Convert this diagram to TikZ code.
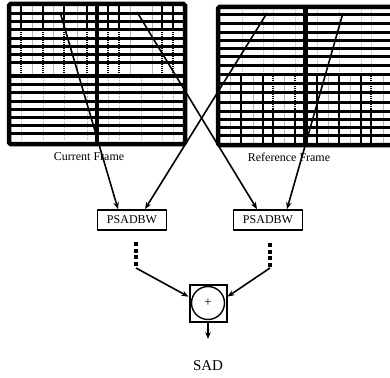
\documentclass[tikz,border=0pt]{standalone}
\usepackage{fontspec}
\setmainfont{Liberation Serif}
\usetikzlibrary{positioning, arrows.meta, calc}

\begin{document}
\begin{tikzpicture}[x=1pt, y=-1pt,
  frame/.style={line width=4.5pt, rounded corners=1.5pt},
  divider/.style={line width=3.5pt},
  rowline/.style={line width=3pt},
  blkline/.style={line width=2pt},
  dotline/.style={line width=1.8pt, dash pattern=on 1pt off 1pt},
  grayline/.style={gray!55, line width=0.7pt},
  graymark/.style={gray!60, line width=0.7pt, dash pattern=on 1pt off 1pt},
  opbox/.style={rectangle, draw, line width=1.8pt, minimum width=69pt, minimum height=20pt, inner sep=0pt, font=\fontsize{12}{14}\selectfont},
  lbl/.style={font=\fontsize{12}{14}\selectfont},
  arrow/.style={-{Stealth[length=7pt, width=5.5pt]}, line width=1.6pt},
  dots/.style={line width=3.8pt, dash pattern=on 4pt off 2.7pt}
]
\useasboundingbox (0,0) rectangle (390,377);

% Current Frame (left)
\foreach \x in {32,53,77,130,152} \draw[grayline] (\x,4) -- (\x,76);
\foreach \x in {21,43,64,87,108,119,162,173} {
  \draw[blkline] (\x,4) -- (\x,30);
  \draw[dotline] (\x,30) -- (\x,76);
}
\foreach \y in {14,22,30,39,47,55,63} \draw[rowline] (9,\y) -- (185,\y);
\foreach \y in {85,93,101,109,117,125,133} \draw[rowline] (9,\y) -- (185,\y);
\foreach \x in {21,43,64,87,108,119,141,162,173}
  \foreach \y in {81,89,97,105,113,121,129,137} \draw[graymark] (\x,\y-2.5) -- (\x,\y+2.5);
\draw[frame] (9,4) rectangle (185,144);
\draw[divider] (97,4) -- (97,144);
\draw[divider] (9,76) -- (185,76);

% Reference Frame (right)
\foreach \x in {242,263,273,295,317,339,361,371}
  \foreach \y in {11,20,28,37,45,53,62,70} \draw[graymark] (\x,\y-2.5) -- (\x,\y+2.5);
\foreach \x in {230,253,284,328,350,383} \draw[grayline] (\x,76) -- (\x,145);
\foreach \x in {241,263,317,339,361} \draw[blkline] (\x,76) -- (\x,145);
\foreach \x in {273,295,371} {
  \draw[dotline] (\x,76) -- (\x,108);
  \draw[blkline] (\x,108) -- (\x,145);
}
\foreach \y in {15,24,33,41,49,57,66} \draw[rowline] (218,\y) -- (390,\y);
\foreach \y in {84,93,102,111,119,127,135} \draw[rowline] (218,\y) -- (390,\y);
\draw[frame] (390,7) -- (218,7) -- (218,145) -- (390,145);
\draw[line width=5pt] (305,7) -- (305,145);
\draw[rowline] (218,75) -- (390,75);

\node[lbl] (curlbl) at (89,157) {Current Frame};
\node[lbl] (reflbl) at (289,157) {Reference Frame};

% block sources
\coordinate (cfa) at (60,12);
\coordinate (cfb) at (137,12);
\coordinate (rfa) at (267,13);
\coordinate (rfb) at (343,13);

% PSADBW units
\node[opbox] (lpsad) at (132,220) {PSADBW};
\node[opbox] (rpsad) at (268,220) {PSADBW};

\draw[arrow] (cfa) -- ($(lpsad.north)+(-14,0)$);
\draw[arrow] (rfa) -- ($(lpsad.north)+(13,0)$);
\draw[arrow] (cfb) -- ($(rpsad.north)+(-11,0)$);
\draw[arrow] (rfb) -- ($(rpsad.north)+(19,0)$);

% more units
\coordinate (ldtop) at (136,242);
\coordinate (ldbot) at (136,268);
\coordinate (rdtop) at (270,243);
\coordinate (rdbot) at (270,268);
\draw[dots] (ldtop) -- (ldbot);
\draw[dots] (rdtop) -- (rdbot);

% adder
\node[rectangle, draw, line width=2pt, minimum size=37pt, inner sep=0pt] (sum) at (208,303) {};
\node[circle, draw, line width=1.4pt, minimum size=33pt, inner sep=0pt, font=\fontsize{13}{15}\selectfont] (plus) at (sum.center) {+};

\draw[arrow] (ldbot) -- (sum.162);
\draw[arrow] (rdbot) -- (sum.18);

\coordinate (out) at (208,339);
\draw[arrow] (sum.south) -- (out);
\node[font=\fontsize{15}{17}\selectfont] (sad) at (208,366) {SAD};
\end{tikzpicture}
\end{document}
